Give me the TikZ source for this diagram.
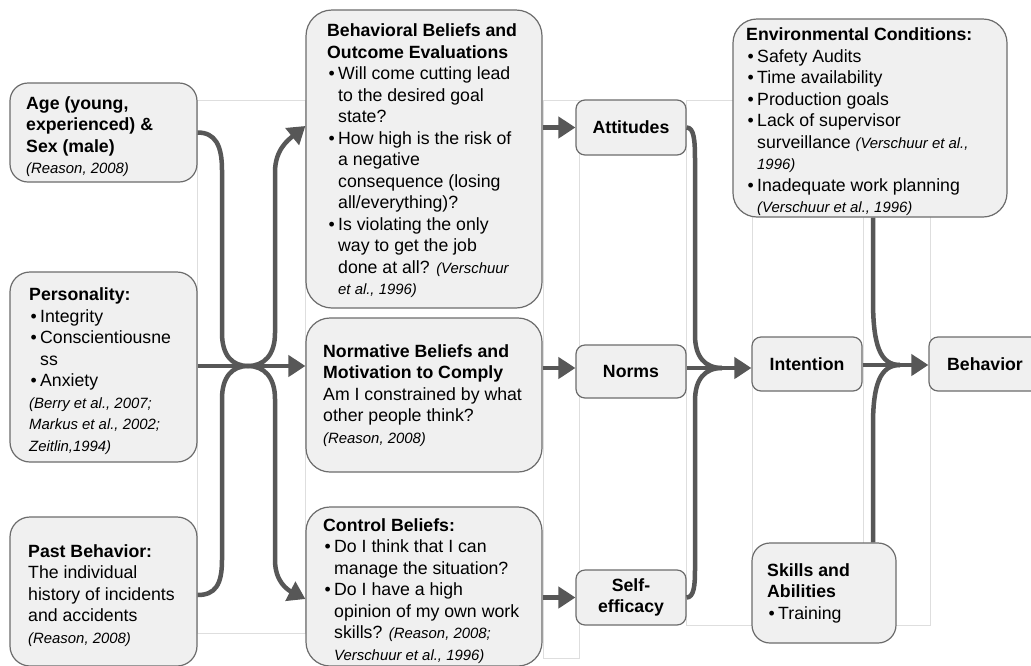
\documentclass[tikz,border=0pt]{standalone}
\usepackage{fontspec}
\setmainfont{Liberation Sans}
\usetikzlibrary{arrows.meta,calc}

\definecolor{boxfill}{RGB}{240,240,240}
\definecolor{boxline}{RGB}{108,108,108}
\definecolor{connclr}{RGB}{87,87,87}
\definecolor{guideclr}{RGB}{222,222,222}

\newcommand\bodysize{\fontsize{17.7}{21.5}\selectfont}
\newcommand\srcref[1]{{\fontsize{14.9}{21.5}\selectfont\itshape #1}}
\newcommand\bulletmark{\makebox[11pt][l]{\hspace{1.5pt}•}}
\newcommand\contindent{\hspace*{11pt}}
% box from (x1,y1) to (x2,y2) in pixel units, with corner radius and label
\newcommand\mkpanel[7]{\node[panel,rounded corners=#6,minimum width={#4-#2},minimum height={#5-#3}] (#1) at ({(#2+#4)/2},{(#3+#5)/2}) {#7};}

\begin{document}
\begin{tikzpicture}[x=1pt,y=-1pt,
  panel/.style={draw=boxline,fill=boxfill,line width=1.2pt,inner sep=0pt,
    font=\bodysize\bfseries,align=center},
  txt/.style={font=\bodysize,align=left,inner sep=0pt,anchor=west},
  conn/.style={draw=connclr,line width=4.5pt},
  tip/.style={-{Triangle[length=17pt,width=21pt]}},
  guide/.style={draw=guideclr,line width=1pt}]

\useasboundingbox (0,0) rectangle (1031,665);
\clip (0,0) rectangle (1031,665);
\fill[white] (0,0) rectangle (1031,665);

% faint column frames behind the flow
\draw[guide] (197,100) rectangle (305,633);
\draw[guide] (543,100) rectangle (579,658);
\draw[guide] (686,100) rectangle (752,625);
\draw[guide] (863,100) rectangle (930,625);

% antecedents
\mkpanel{age}{10}{83}{197}{182}{18pt}{}
\mkpanel{pers}{10}{272}{197}{462}{20pt}{}
\mkpanel{past}{10}{517}{197}{666}{20pt}{}
% beliefs
\mkpanel{beh}{306}{10}{542}{308}{26pt}{}
\mkpanel{norm}{306}{318}{542}{472}{24pt}{}
\mkpanel{ctrl}{306}{507}{542}{666}{24pt}{}
% determinants
\mkpanel{att}{576}{100}{686}{155}{9pt}{Attitudes}
\mkpanel{nrm}{576}{345}{686}{398}{9pt}{Norms}
\mkpanel{slf}{576}{570}{686}{625}{9pt}{Self-\\efficacy}
% intention and behaviour
\mkpanel{env}{733}{19}{1007}{217}{24pt}{}
\mkpanel{int}{752}{337}{862}{391}{9pt}{Intention}
\mkpanel{bhv}{929}{337}{1041}{391}{9pt}{Behavior}
\mkpanel{skl}{752}{543}{896}{643}{18pt}{}

% hubs where connectors merge
\coordinate (hubL) at (248,366);
\coordinate (hubM) at (722,368);
\coordinate (hubR) at (900,365);
\coordinate (rowN) at (0,368);
\coordinate (colR) at (873,0);

% antecedents -> beliefs
\draw[conn] (age.east) .. controls (215,132.5) and (222,145) .. (222,170)
  -- (222,333) .. controls (222,355) and (232,366) .. (hubL);
\draw[conn] (past.east |- 0,595) .. controls (215,595) and (222,585) .. (222,560)
  -- (222,399) .. controls (222,377) and (232,366) .. (hubL);
\draw[conn,tip] (pers.east |- hubL) -- (norm.west |- hubL);
\draw[conn,tip] (hubL) .. controls (264,366) and (275,355) .. (275,333)
  -- (275,172) .. controls (275,150) and (288,140) .. (beh.west |- 0,126);
\draw[conn,tip] (hubL) .. controls (264,366) and (275,377) .. (275,399)
  -- (275,560) .. controls (275,582) and (288,590) .. (ctrl.west |- 0,599);

% beliefs -> determinants
\draw[conn,tip] (beh.east |- att.west) -- (att.west);
\draw[conn,tip] (norm.east |- rowN) -- (nrm.west |- rowN);
\draw[conn,tip] (ctrl.east |- slf.west) -- (slf.west);

% determinants -> intention
\draw[conn] (att.east) .. controls (694,127.5) and (695,140) .. (695,160)
  -- (695,335) .. controls (695,357) and (705,368) .. (hubM);
\draw[conn] (slf.east) .. controls (694,597.5) and (695,585) .. (695,570)
  -- (695,401) .. controls (695,379) and (705,368) .. (hubM);
\draw[conn,tip] (nrm.east |- rowN) -- (int.west |- rowN);

% intention, conditions, skills -> behaviour
\draw[conn,tip] (int.east |- hubR) -- (bhv.west |- hubR);
\draw[conn] (env.south -| colR) -- (873,300) .. controls (873,345) and (880,365) .. (hubR);
\draw[conn] (skl.north -| colR) -- (873,425) .. controls (873,385) and (880,365) .. (hubR);

% box texts
\node[txt] (agetxt) at (26,136.5) {\textbf{Age (young,}\\\textbf{experienced) \&}\\\textbf{Sex (male)}\\\srcref{(Reason, 2008)}};
\node[txt] (perstxt) at (29,371) {\textbf{Personality:}\\
  \bulletmark Integrity\\
  \bulletmark Conscientiousne\\
  \contindent ss\\
  \bulletmark Anxiety\\
  \srcref{(Berry et al., 2007;}\\
  \srcref{Markus et al., 2002;}\\
  \srcref{Zeitlin,1994)}};
\node[txt] (pasttxt) at (28,595.5) {\textbf{Past Behavior:}\\The individual\\history of incidents\\and accidents\\\srcref{(Reason, 2008)}};
\node[txt] (behtxt) at (327,161) {\textbf{Behavioral Beliefs and}\\
  \textbf{Outcome Evaluations}\\
  \bulletmark Will come cutting lead\\
  \contindent to the desired goal\\
  \contindent state?\\
  \bulletmark How high is the risk of\\
  \contindent a negative\\
  \contindent consequence (losing\\
  \contindent all/everything)?\\
  \bulletmark Is violating the only\\
  \contindent way to get the job\\
  \contindent done at all? \srcref{(Verschuur}\\
  \contindent\srcref{et al., 1996)}};
\node[txt] (normtxt) at (323,395.5) {\textbf{Normative Beliefs and}\\
  \textbf{Motivation to Comply}\\
  Am I constrained by what\\
  other people think?\\
  \srcref{(Reason, 2008)}};
\node[txt] (ctrltxt) at (323,591) {\textbf{Control Beliefs:}\\
  \bulletmark Do I think that I can\\
  \contindent manage the situation?\\
  \bulletmark Do I have a high\\
  \contindent opinion of my own work\\
  \contindent skills? \srcref{(Reason, 2008;}\\
  \contindent\srcref{Verschuur et al., 1996)}};
\node[txt] (envtxt) at (746,122) {\textbf{Environmental Conditions:}\\
  \bulletmark Safety Audits\\
  \bulletmark Time availability\\
  \bulletmark Production goals\\
  \bulletmark Lack of supervisor\\
  \contindent surveillance \srcref{(Verschuur et al.,}\\
  \contindent\srcref{1996)}\\
  \bulletmark Inadequate work planning\\
  \contindent\srcref{(Verschuur et al., 1996)}};
\node[txt] (skltxt) at (767,593) {\textbf{Skills and}\\\textbf{Abilities}\\\bulletmark Training};

\end{tikzpicture}
\end{document}
